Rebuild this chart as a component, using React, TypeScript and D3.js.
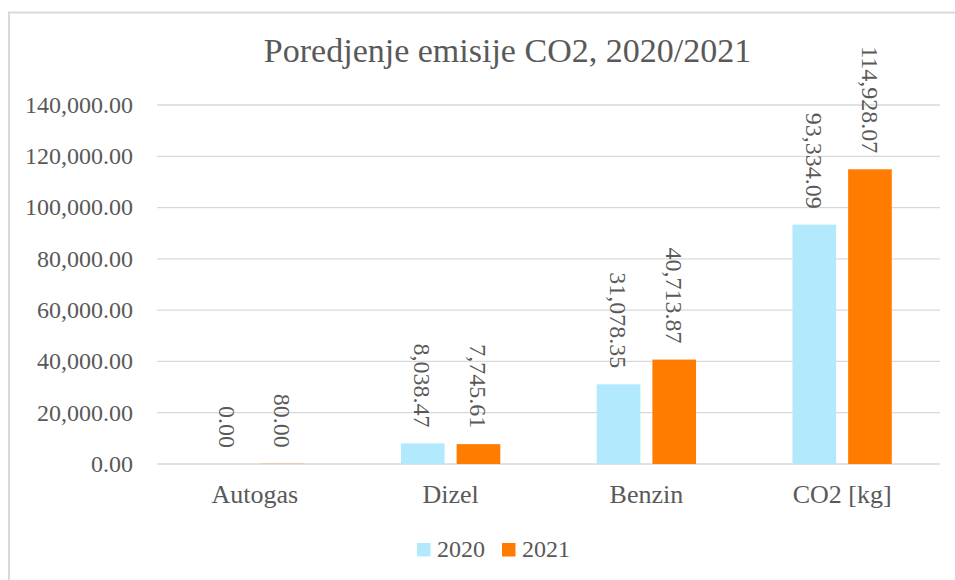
import React from "react";
import * as d3 from "d3";

const categories = ["Autogas", "Dizel", "Benzin", "CO2 [kg]"];
const seriesNames = ["2020", "2021"];
const values2020 = [0, 8038.47, 31078.35, 93334.09];
const values2021 = [80, 7745.61, 40713.87, 114928.07];
const yTicks = [0, 20000, 40000, 60000, 80000, 100000, 120000, 140000];
const title = "Poredjenje emisije CO2, 2020/2021";

const colors = ["#B3E9FC", "#FF7C00"];
const textColor = "#595959";
const gridColor = "#D9D9D9";
const font = "'Liberation Serif', 'Times New Roman', serif";

export default function App() {
  const W = 955;
  const H = 580;
  const left = 157;
  const right = 940;
  const top = 105;
  const bottom = 464;

  const x0 = d3.scaleBand<string>().domain(categories).range([left, right]).paddingInner(0).paddingOuter(0);
  const x1 = d3
    .scaleBand<string>()
    .domain(seriesNames)
    .range([0, x0.bandwidth()])
    .paddingInner(0.216)
    .paddingOuter(0.866);
  const y = d3.scaleLinear().domain([0, 140000]).range([bottom, top]);
  const fmtTick = d3.format(",.2f");
  const fmt = d3.format(",.2f");

  const series = [values2020, values2021];

  return (
    <div style={{ position: "absolute", left: 0, top: 0 }}>
      <svg width={W} height={H} style={{ display: "block" }}>
        <rect x={0} y={0} width={W} height={H} fill="#fff" />
        <rect x={9} y={12.5} width={1000} height={700} fill="#fff" stroke={gridColor} strokeWidth={2} />
        <text
          x={507.5}
          y={62}
          textAnchor="middle"
          fontFamily={font}
          fontSize={34}
          fill={textColor}
        >
          {title}
        </text>
        {yTicks.map((t) => (
          <g key={t}>
            <line x1={left} x2={right} y1={y(t)} y2={y(t)} stroke={gridColor} strokeWidth={1.3} />
            <text
              x={133}
              y={y(t)}
              dy="0.33em"
              textAnchor="end"
              fontFamily={font}
              fontSize={24}
              fill={textColor}
            >
              {fmtTick(t)}
            </text>
          </g>
        ))}
        {categories.map((c, i) => (
          <g key={c}>
            {series.map((vals, s) => {
              const bx = (x0(c) as number) + (x1(seriesNames[s]) as number);
              const bw = x1.bandwidth();
              const by = y(vals[i]);
              const cx = bx + bw / 2;
              return (
                <g key={s}>
                  <rect x={bx} y={by} width={bw} height={bottom - by} fill={colors[s]} />
                  <text
                    transform={`translate(${cx},${by - 16}) rotate(90)`}
                    dy="0.35em"
                    textAnchor="end"
                    fontFamily={font}
                    fontSize={24}
                    fill={textColor}
                  >
                    {fmt(vals[i])}
                  </text>
                </g>
              );
            })}
            <text
              x={(x0(c) as number) + x0.bandwidth() / 2}
              y={503}
              textAnchor="middle"
              fontFamily={font}
              fontSize={26}
              fill={textColor}
            >
              {c}
            </text>
          </g>
        ))}
        {seriesNames.map((s, i) => {
          const lx = [417, 502][i];
          return (
            <g key={s}>
              <rect x={lx} y={543} width={13.5} height={13.5} fill={colors[i]} />
              <text x={lx + 20} y={557} fontFamily={font} fontSize={24} fill={textColor}>
                {s}
              </text>
            </g>
          );
        })}
      </svg>
    </div>
  );
}
